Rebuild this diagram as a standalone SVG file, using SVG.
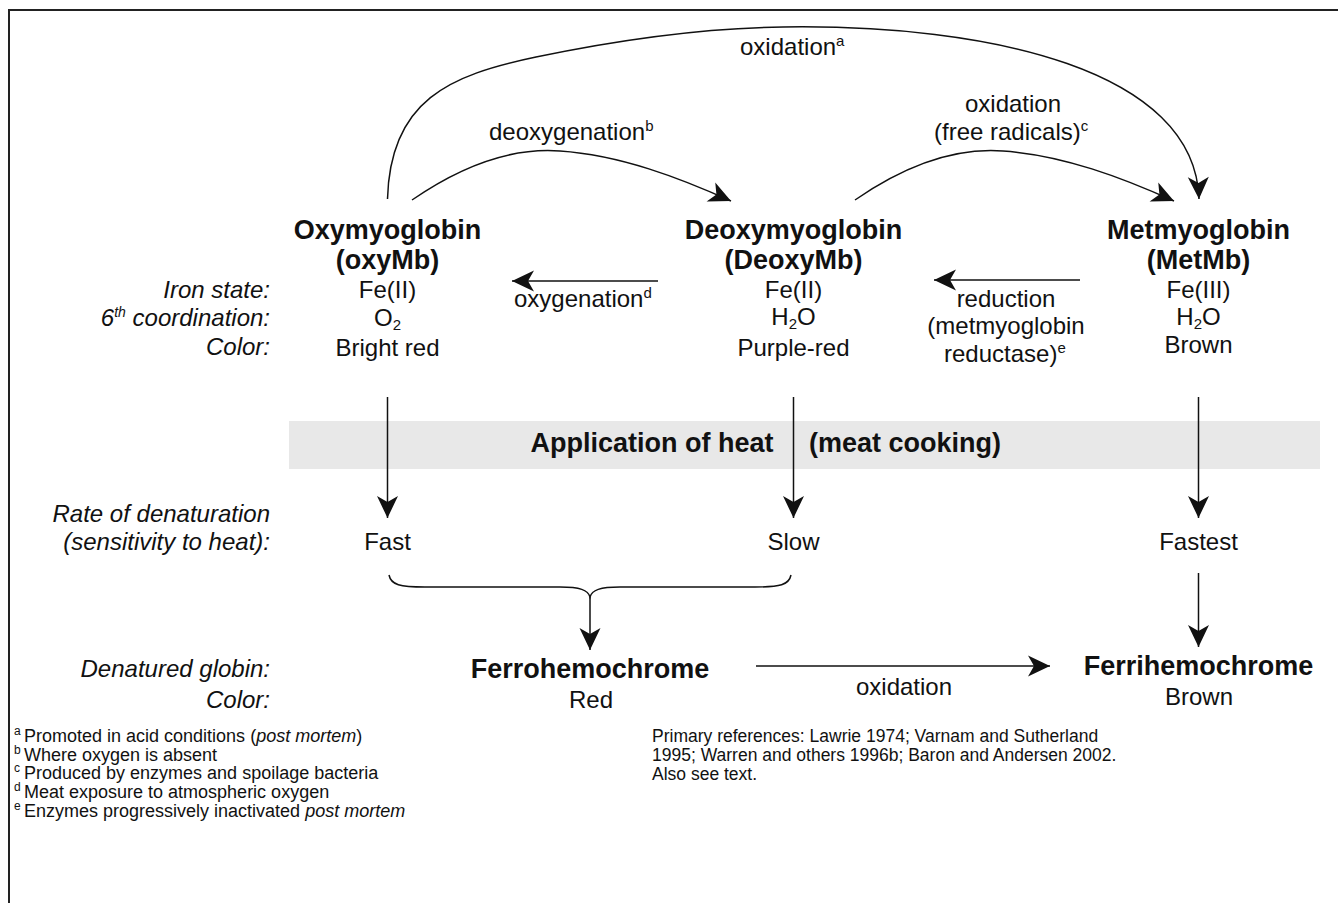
<svg xmlns="http://www.w3.org/2000/svg" width="1338" height="903" viewBox="0 0 1338 903">
<defs>
<style>
text{font-family:"Liberation Sans",Arial,Helvetica,sans-serif;fill:#111;font-size:24px}
.b{font-weight:bold;font-size:27px}
.i{font-style:italic}
.m{text-anchor:middle}
.e{text-anchor:end}
.fn{font-size:18px}
.rf{font-size:17.5px}
.ln{fill:none;stroke:#111;stroke-width:1.5}
</style>
<marker id="ah" viewBox="-23 -12 24 24" refX="0" refY="0" markerWidth="24" markerHeight="24" markerUnits="userSpaceOnUse" orient="auto">
<path d="M0,0 L-22,-10.5 L-16,0 L-22,10.5 Z" fill="#111"/>
</marker>
</defs>
<rect x="0" y="0" width="1338" height="903" fill="#fff"/>
<rect x="9" y="10" width="1340" height="900" fill="none" stroke="#222" stroke-width="2"/>

<g id="heat">
<rect x="289" y="421" width="1031" height="48" fill="#e8e8e8"/>
<text class="b m" x="652" y="452">Application of heat</text>
<text class="b m" x="905" y="452">(meat cooking)</text>
</g>

<g id="row-labels">
<text class="i e" x="270" y="298">Iron state:</text>
<text class="i e" x="270" y="326">6<tspan font-size="14" dy="-9">th</tspan><tspan dy="9"> coordination:</tspan></text>
<text class="i e" x="270" y="355">Color:</text>
<text class="i e" x="270" y="522">Rate of denaturation</text>
<text class="i e" x="270" y="550">(sensitivity to heat):</text>
<text class="i e" x="270" y="677">Denatured globin:</text>
<text class="i e" x="270" y="708">Color:</text>
</g>

<g id="oxymb">
<text class="b m" x="387.5" y="239">Oxymyoglobin</text>
<text class="b m" x="387.5" y="269">(oxyMb)</text>
<text class="m" x="387.5" y="298">Fe(II)</text>
<text class="m" x="387.5" y="326">O<tspan font-size="15" dy="4">2</tspan></text>
<text class="m" x="387.5" y="356">Bright red</text>
</g>

<g id="deoxymb">
<text class="b m" x="793.5" y="239">Deoxymyoglobin</text>
<text class="b m" x="793.5" y="269">(DeoxyMb)</text>
<text class="m" x="793.5" y="298">Fe(II)</text>
<text class="m" x="793.5" y="325">H<tspan font-size="15" dy="4">2</tspan><tspan dy="-4">O</tspan></text>
<text class="m" x="793.5" y="356">Purple-red</text>
</g>

<g id="metmb">
<text class="b m" x="1198.5" y="239">Metmyoglobin</text>
<text class="b m" x="1198.5" y="269">(MetMb)</text>
<text class="m" x="1198.5" y="298">Fe(III)</text>
<text class="m" x="1198.5" y="325">H<tspan font-size="15" dy="4">2</tspan><tspan dy="-4">O</tspan></text>
<text class="m" x="1198.5" y="353">Brown</text>
</g>

<g id="rates">
<text class="m" x="387.5" y="550">Fast</text>
<text class="m" x="793.5" y="550">Slow</text>
<text class="m" x="1198.5" y="550">Fastest</text>
</g>

<g id="ferrohemochrome">
<text class="b m" x="590" y="678">Ferrohemochrome</text>
<text class="m" x="591" y="708">Red</text>
</g>

<g id="ferrihemochrome">
<text class="b m" x="1198.5" y="675">Ferrihemochrome</text>
<text class="m" x="1199" y="705">Brown</text>
</g>

<g id="connectors">
<path class="ln" marker-end="url(#ah)" d="M387.5,199 C390,100 450,75 536,57 C622,39 700,28 783,27 C990,24 1195,70 1199,199"/>
<path class="ln" marker-end="url(#ah)" d="M412,200 C470,160 520,148 560,151 C620,155 680,178 731,201"/>
<path class="ln" marker-end="url(#ah)" d="M855,200 C913,160 963,148 1003,151 C1063,155 1123,178 1174,201"/>
<path class="ln" marker-end="url(#ah)" d="M658,281 L512,281"/>
<path class="ln" marker-end="url(#ah)" d="M1080,280 L934,280"/>
<path class="ln" marker-end="url(#ah)" d="M387.5,397 L387.5,518"/>
<path class="ln" marker-end="url(#ah)" d="M793.5,397 L793.5,518"/>
<path class="ln" marker-end="url(#ah)" d="M1198.5,397 L1198.5,518"/>
<path class="ln" d="M389,575 C391,585 400,587 425,587 L560,587 C580,587 588,590 590,597 C592,590 600,587 620,587 L755,587 C780,587 789,585 791,575"/>
<path class="ln" marker-end="url(#ah)" d="M590,597 L590,650"/>
<path class="ln" marker-end="url(#ah)" d="M1198.5,573 L1198.5,647"/>
<path class="ln" marker-end="url(#ah)" d="M756,666 L1050,666"/>
</g>

<g id="connector-labels">
<text x="740" y="55">oxidation<tspan font-size="15" dy="-9">a</tspan></text>
<text x="489" y="140">deoxygenation<tspan font-size="15" dy="-9">b</tspan></text>
<text class="m" x="1013" y="112">oxidation</text>
<text x="934" y="140">(free radicals)<tspan font-size="15" dy="-9">c</tspan></text>
<text x="514" y="307">oxygenation<tspan font-size="15" dy="-9">d</tspan></text>
<text class="m" x="1006" y="307">reduction</text>
<text class="m" x="1006" y="334">(metmyoglobin</text>
<text x="944" y="362">reductase)<tspan font-size="15" dy="-9">e</tspan></text>
<text class="m" x="904" y="695">oxidation</text>
</g>

<g id="footnotes">
<text class="fn" x="14" y="742"><tspan font-size="12" dy="-7">a</tspan><tspan x="24" dy="7">Promoted in acid conditions (</tspan><tspan font-style="italic">post mortem</tspan>)</text>
<text class="fn" x="14" y="760.5"><tspan font-size="12" dy="-7">b</tspan><tspan x="24" dy="7">Where oxygen is absent</tspan></text>
<text class="fn" x="14" y="779"><tspan font-size="12" dy="-7">c</tspan><tspan x="24" dy="7">Produced by enzymes and spoilage bacteria</tspan></text>
<text class="fn" x="14" y="797.5"><tspan font-size="12" dy="-7">d</tspan><tspan x="24" dy="7">Meat exposure to atmospheric oxygen</tspan></text>
<text class="fn" x="14" y="817"><tspan font-size="12" dy="-7">e</tspan><tspan x="24" dy="7">Enzymes progressively inactivated </tspan><tspan font-style="italic">post mortem</tspan></text>
</g>

<g id="references">
<text class="rf" x="652" y="742">Primary references: Lawrie 1974; Varnam and Sutherland</text>
<text class="rf" x="652" y="761">1995; Warren and others 1996b; Baron and Andersen 2002.</text>
<text class="rf" x="652" y="780">Also see text.</text>
</g>
</svg>
